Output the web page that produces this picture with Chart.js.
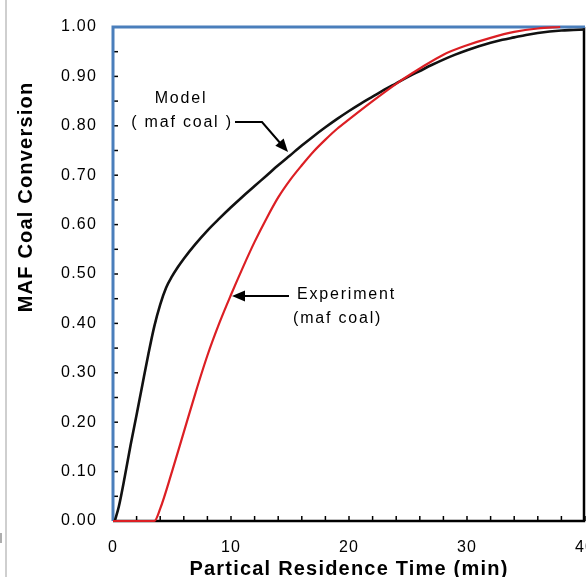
<!DOCTYPE html>
<html><head><meta charset="utf-8">
<script src="https://cdn.jsdelivr.net/npm/chart.js@4.4.0/dist/chart.umd.min.js"></script>
<style>html,body{margin:0;padding:0;background:#fff;overflow:hidden}#wrap{position:relative;width:586px;height:577px}</style>
</head><body><div id="wrap"><canvas id="c" width="586" height="577"></canvas></div>
<script>
// ---- data ----
const modelTime = [0.15, 0.5, 1.0, 1.5, 2.0, 2.5, 3.0, 3.5, 4.0, 4.5, 5.0, 5.5, 6.0, 7.0, 8.0, 9.0, 10.0, 11.0, 12.0, 13.0, 14.0, 15.0, 16.0, 17.0, 18.0, 19.0, 20.0, 21.0, 22.0, 23.0, 24.0, 25.0, 26.0, 27.0, 28.0, 29.0, 30.0, 31.0, 32.0, 33.0, 34.0, 35.0, 36.0, 37.0, 38.0, 39.0, 40.0];
const modelConv = [0, 0.03, 0.09, 0.155, 0.215, 0.277, 0.338, 0.394, 0.438, 0.472, 0.495, 0.514, 0.531, 0.561, 0.588, 0.612, 0.635, 0.657, 0.678, 0.699, 0.72, 0.74, 0.76, 0.779, 0.797, 0.814, 0.83, 0.845, 0.859, 0.873, 0.886, 0.899, 0.911, 0.923, 0.934, 0.944, 0.953, 0.961, 0.968, 0.974, 0.979, 0.984, 0.988, 0.991, 0.993, 0.994, 0.995];
const expTime = [0, 3.5, 4.0, 5.0, 6.0, 7.0, 8.0, 9.0, 10.0, 11.0, 12.0, 13.0, 14.0, 15.0, 16.0, 17.0, 18.0, 19.0, 20.0, 22.0, 24.0, 26.0, 28.0, 30.0, 32.0, 34.0, 36.0, 37.9];
const expConv = [0, 0, 0.025, 0.1, 0.18, 0.26, 0.335, 0.40, 0.458, 0.513, 0.565, 0.612, 0.655, 0.69, 0.72, 0.748, 0.772, 0.794, 0.813, 0.85, 0.885, 0.916, 0.944, 0.963, 0.978, 0.99, 0.997, 1.0];
const idealTime = [0, 0, 40];
const idealConv = [0, 1, 1];
const xTickValues = [0, 10, 20, 30, 40];
const yTickValues = [0, 0.1, 0.2, 0.3, 0.4, 0.5, 0.6, 0.7, 0.8, 0.9, 1.0];
const xTitle = 'Partical Residence Time (min)';
const yTitle = 'MAF Coal Conversion';

const pts = (xs, ys) => xs.map((x, i) => ({x, y: ys[i]}));

const deco = {
  id: 'deco',
  beforeUpdate(chart){ chart.ctx.letterSpacing = '1.2px'; },
  beforeDraw(chart){
    const ctx = chart.ctx;
    ctx.letterSpacing = '1.2px';
    ctx.save();
    ctx.strokeStyle = '#cfcfcf'; ctx.lineWidth = 2;
    ctx.beginPath(); ctx.moveTo(6, 0); ctx.lineTo(6, 577); ctx.stroke();
    ctx.strokeStyle = '#777'; ctx.lineWidth = 1.2;
    ctx.beginPath(); ctx.moveTo(1, 533); ctx.lineTo(1, 543); ctx.stroke();
    ctx.restore();
  },
  beforeDatasetsDraw(chart){
    const ctx = chart.ctx, a = chart.chartArea;
    const xs = chart.scales.x, ys = chart.scales.y;
    ctx.save();
    ctx.strokeStyle = '#000';
    ctx.lineWidth = 2.5;
    ctx.beginPath();
    ctx.moveTo(a.left, a.bottom); ctx.lineTo(a.right - 1, a.bottom); ctx.lineTo(a.right - 1, a.top);
    ctx.stroke();
    ctx.lineWidth = 1.5;
    for (let v = 0; v <= 40.001; v += 2) {
      const p = xs.getPixelForValue(v);
      ctx.beginPath(); ctx.moveTo(p, a.bottom); ctx.lineTo(p, a.bottom - 5); ctx.stroke();
    }
    for (let v = 0; v <= 1.0001; v += 0.05) {
      const p = ys.getPixelForValue(v);
      ctx.beginPath(); ctx.moveTo(a.left, p); ctx.lineTo(a.left + 5, p); ctx.stroke();
    }
    ctx.restore();
  },
  afterDraw(chart){
    const ctx = chart.ctx;
    ctx.save();
    ctx.letterSpacing = '1.2px';
    ctx.fillStyle = '#000';
    ctx.font = 'bold 20px "Liberation Sans", Arial, sans-serif';
    ctx.translate(26, 197); ctx.rotate(-Math.PI / 2);
    ctx.textAlign = 'center'; ctx.textBaseline = 'middle';
    ctx.fillText(yTitle, 0, 0);
    ctx.restore();

    ctx.save();
    ctx.letterSpacing = '1.8px';
    ctx.fillStyle = '#000';
    ctx.font = '16px "Liberation Sans", Arial, sans-serif';
    ctx.textBaseline = 'middle';
    ctx.textAlign = 'center';
    ctx.fillText('Model', 181, 99);
    ctx.fillText('( maf coal )', 182, 123);
    ctx.textAlign = 'left';
    ctx.fillText('Experiment', 297, 295);
    ctx.fillText('(maf coal)', 293, 319);

    ctx.strokeStyle = '#000'; ctx.lineWidth = 2;
    ctx.beginPath(); ctx.moveTo(235, 122); ctx.lineTo(262, 122); ctx.lineTo(281, 144); ctx.stroke();
    arrowHead(ctx, [288, 152], Math.atan2(30, 26));
    ctx.beginPath(); ctx.moveTo(289, 296); ctx.lineTo(242, 296); ctx.stroke();
    arrowHead(ctx, [232, 296], Math.PI);
    ctx.restore();
  }
};
function arrowHead(ctx, tip, ang){
  const L = 13, W = 5.5;
  const bx = tip[0] - L * Math.cos(ang), by = tip[1] - L * Math.sin(ang);
  const nx = -Math.sin(ang), ny = Math.cos(ang);
  ctx.fillStyle = '#000';
  ctx.beginPath();
  ctx.moveTo(tip[0], tip[1]);
  ctx.lineTo(bx + nx * W, by + ny * W);
  ctx.lineTo(bx - nx * W, by - ny * W);
  ctx.closePath(); ctx.fill();
}

new Chart(document.getElementById('c'), {
  type: 'scatter',
  data: {
    datasets: [
      {label: 'Experiment (maf coal)', data: pts(expTime, expConv), showLine: true, borderColor: '#dc1f24', borderWidth: 2.2, pointRadius: 0, cubicInterpolationMode: 'monotone', clip: false},
      {label: 'Model (maf coal)', data: pts(modelTime, modelConv), showLine: true, borderColor: '#111', borderWidth: 2.6, pointRadius: 0, cubicInterpolationMode: 'monotone', clip: false},
      {label: 'Ideal', data: pts(idealTime, idealConv), showLine: true, borderColor: '#4a7ebb', borderWidth: 3, pointRadius: 0, tension: 0, clip: false}
    ]
  },
  options: {
    responsive: false, animation: false, devicePixelRatio: 1,
    layout: {padding: {top: 27, right: 1, left: 0, bottom: 0}},
    plugins: {legend: {display: false}, tooltip: {enabled: false}},
    scales: {
      x: {
        type: 'linear', min: 0, max: 40,
        afterBuildTicks: s => { s.ticks = xTickValues.map(v => ({value: v})); },
        afterFit: s => { s.height = 56; s.paddingLeft = 0; s.paddingRight = 0; },
        grid: {display: false, drawTicks: false}, border: {display: false},
        ticks: {color: '#000', padding: 17, maxRotation: 0, font: {family: '"Liberation Sans", Arial, sans-serif', size: 16}, callback: v => String(v)},
        title: {display: true, text: xTitle, color: '#000', padding: {top: 0, bottom: -4}, font: {family: '"Liberation Sans", Arial, sans-serif', size: 20, weight: 'bold'}}
      },
      y: {
        type: 'linear', min: 0, max: 1,
        afterBuildTicks: s => { s.ticks = yTickValues.map(v => ({value: v})); },
        afterFit: s => { s.width = 113; s.paddingTop = 0; s.paddingBottom = 0; },
        grid: {display: false, drawTicks: false}, border: {display: false},
        ticks: {color: '#000', padding: 16, font: {family: '"Liberation Sans", Arial, sans-serif', size: 16}, callback: v => Number(v).toFixed(2)}
      }
    }
  },
  plugins: [deco]
});
</script></body></html>
